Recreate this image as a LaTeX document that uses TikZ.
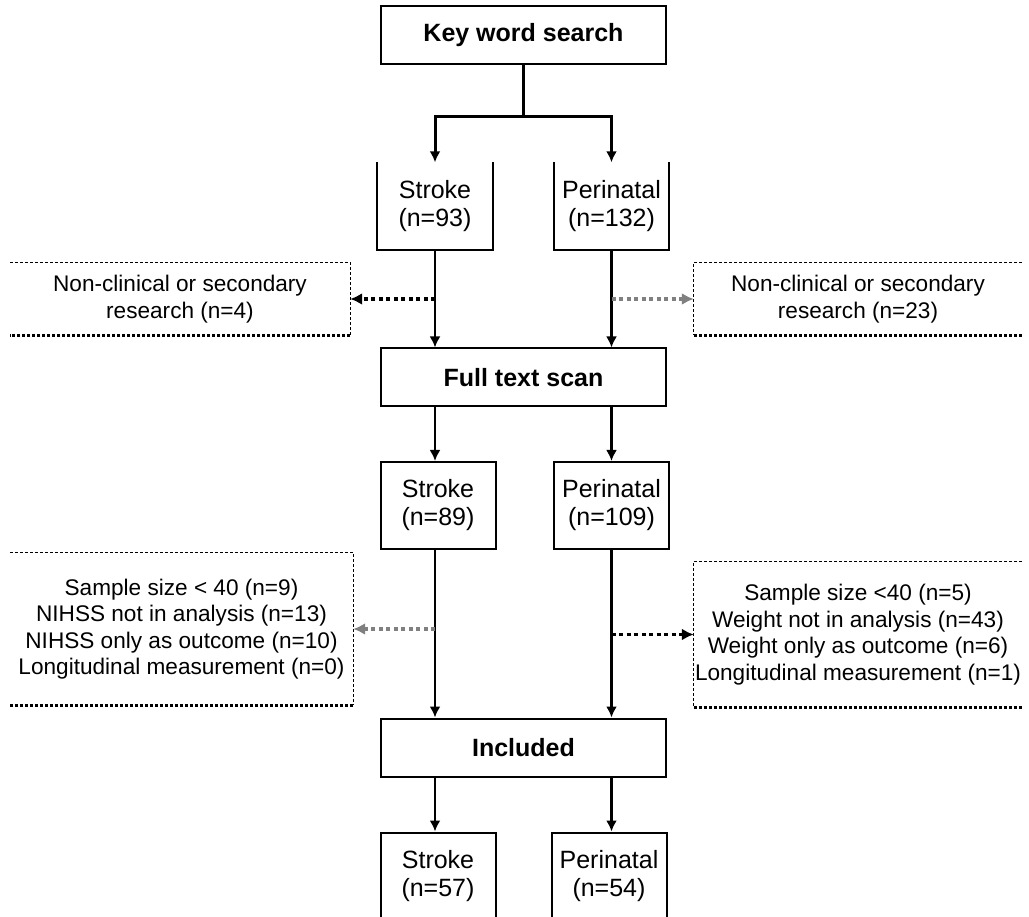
\documentclass[tikz,border=0pt]{standalone}
\usepackage{fontspec}
\setmainfont{Liberation Sans}
\usetikzlibrary{arrows.meta}

\begin{document}
\begin{tikzpicture}[x=1pt,y=-1pt]
\tikzset{
	grande/.style={draw, line width=2pt, minimum width=285pt, minimum height=58pt, inner sep=0pt, font=\fontsize{25}{28}\selectfont\bfseries},
	petite/.style={minimum width=115pt, minimum height=87pt, inner sep=0pt, align=center, font=\fontsize{25}{28}\selectfont},
	exclu/.style={inner sep=0pt, align=center, font=\fontsize{22.6}{26.5}\selectfont},
	fleche/.style={-{Latex[length=11pt,width=11pt]}, line width=2.5pt},
	pointille/.style={-{Latex[length=12pt,width=12pt]}, line width=3.5pt, dash pattern=on 4pt off 3.5pt},
	bord/.style={line width=1.2pt, dash pattern=on 3pt off 2pt},
}
  \useasboundingbox (0,0) rectangle (1029,917);
  \clip (0,0) rectangle (1029,917);

 % les grandes boites
  \node[grande] (kw) at (523.5,35) {Key word search};
  \node[grande] (fts) at (523.5,377.5) {Full text scan};
  \node[grande] (inc) at (523.5,747.5) {Included};

 % premiere rangee (sans bord du haut)
  \node[petite] (s1) at (435,206) {Stroke\\(n=93)};
  \node[petite] (p1) at (611.5,206) {Perinatal\\(n=132)};
  \draw[line width=2pt] (s1.north west) -- (s1.south west) -- (s1.south east) -- (s1.north east);
  \draw[line width=2pt] (p1.north west) -- (p1.south west) -- (p1.south east) -- (p1.north east);

  \node[petite,draw,line width=2pt] (s2) at (438,505.5) {Stroke\\(n=89)};
  \node[petite,draw,line width=2pt] (p2) at (611.5,505.5) {Perinatal\\(n=109)};
  \node[petite,draw,line width=2pt] (s3) at (438,876) {Stroke\\(n=57)};
  \node[petite,draw,line width=2pt] (p3) at (609,876) {Perinatal\\(n=54)};

 % les exclusions
  \node[exclu, minimum width=340pt, minimum height=72pt] (ex1g) at (180,299) {Non-clinical or secondary\\research (n=4)};
  \node[exclu, minimum width=328pt, minimum height=72pt] (ex1d) at (858,299) {Non-clinical or secondary\\research (n=23)};
  \node[exclu, minimum width=343pt, minimum height=152pt] (ex2g) at (181.5,629) {Sample size < 40 (n=9)\\NIHSS not in analysis (n=13)\\NIHSS only as outcome (n=10)\\Longitudinal measurement (n=0)};
  \node[exclu, minimum width=328pt, minimum height=145pt] (ex2d) at (858,634.5) {Sample size <40 (n=5)\\Weight not in analysis (n=43)\\Weight only as outcome (n=6)\\Longitudinal measurement (n=1)};

  \foreach \b in {ex1g,ex2g}{
    \draw[bord] (\b.north west) -- (\b.north east) -- (\b.south east);
    \draw[bord, line width=3pt] (\b.south east) -- (\b.south west);
  }
  \foreach \b in {ex1d,ex2d}{
    \draw[bord] (\b.north east) -- (\b.north west) -- (\b.south west);
    \draw[bord, line width=3pt] (\b.south west) -- (\b.south east);
  }

 % les fleches
  \draw[line width=3pt] (kw.south) -- ++(0,52) coordinate (fourche);
  \draw[fleche, line width=3pt] (fourche) -| (s1.north);
  \draw[fleche, line width=3pt] (fourche) -| (p1.north);

  \draw[fleche] (s1.south) -- (s1.south |- fts.north);
  \draw[fleche] (p1.south) -- (p1.south |- fts.north);
  \draw[fleche] (s1.south |- fts.south) -- (s1.south |- s2.north);
  \draw[fleche] (p1.south |- fts.south) -- (p1.south |- p2.north);
  \draw[fleche] (s1.south |- s2.south) -- (s1.south |- inc.north);
  \draw[fleche] (p1.south |- p2.south) -- (p1.south |- inc.north);
  \draw[fleche] (s1.south |- inc.south) -- (s1.south |- s3.north);
  \draw[fleche] (p1.south |- inc.south) -- (p1.south |- p3.north);

  \draw[pointille] (s1.south |- ex1g.east) -- (ex1g.east);
  \draw[pointille, gray] (p1.south |- ex1d.west) -- (ex1d.west);
  \draw[pointille, gray] (s1.south |- ex2g.east) -- (ex2g.east);
  \draw[pointille] (p1.south |- ex2d.west) -- (ex2d.west);
\end{tikzpicture}
\end{document}
